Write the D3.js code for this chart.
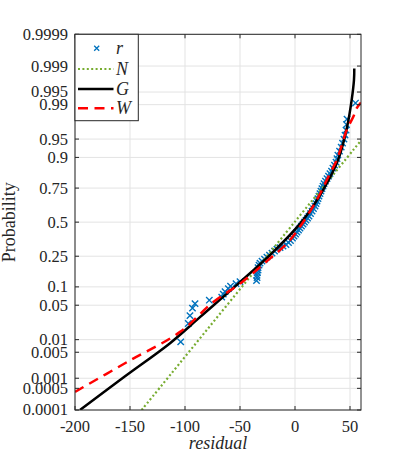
<!DOCTYPE html>
<html>
<head>
<meta charset="utf-8">
<script src="https://cdn.jsdelivr.net/npm/d3@7"></script>
<style>
  body { margin: 0; background: #fff; }
  svg { display: block; }
</style>
</head>
<body>
<svg width="399" height="459"></svg>
<script>
// ---- data ----
const xTicks = [-200, -150, -100, -50, 0, 50];
const probTicks = [0.0001, 0.0005, 0.001, 0.005, 0.01, 0.05, 0.1, 0.25, 0.5, 0.75, 0.9, 0.95, 0.99, 0.995, 0.999, 0.9999];

// residual sample r
const rResidual = [-103.9, -97.0, -95.5, -93.2, -90.9, -77.9, -66.6, -65.2, -63.6, -60.6, -58.6, -53.6, -50.0,
    -35.0, -34.5, -34.5, -34.1, -33.6, -33.6, -32.7, -31.8,
    -30.0, -27.7, -25.5, -23.2, -20.9, -18.6, -16.4, -13.6, -10.9, -8.2, -5.9, -4.1, -2.3, -0.9, 0.5, 1.8, 3.2,
    4.5, 5.9, 7.3, 8.6, 10.0, 11.4, 12.7, 14.1, 15.5, 16.8, 18.2, 19.1, 20.0, 20.9, 21.8, 22.7, 23.6, 24.5,
    25.5, 26.4, 27.7, 29.1, 30.5, 31.8, 33.2, 34.5, 35.9, 37.3, 38.2, 39.0, 40.5, 42.0, 43.2, 44.5, 45.5,
    46.4, 46.8, 47.3, 55.0];
const rProb = [0.00889, 0.0224, 0.0321, 0.0443, 0.0533, 0.0612, 0.0688, 0.0770, 0.0844, 0.0939, 0.1026, 0.1116, 0.1194,
    0.1234, 0.1359, 0.1469, 0.1587, 0.1710, 0.1838, 0.1973, 0.2085,
    0.2200, 0.2318, 0.2442, 0.2568, 0.2697, 0.2829, 0.2965, 0.3068, 0.3174, 0.3279, 0.3424, 0.3572, 0.3756, 0.3909, 0.4061, 0.4215, 0.4372,
    0.4526, 0.4685, 0.4842, 0.5000, 0.5158, 0.5315, 0.5474, 0.5668, 0.5862, 0.6054, 0.6244, 0.6429, 0.6612, 0.6791, 0.6967, 0.7137, 0.7303, 0.7464,
    0.7621, 0.7771, 0.7916, 0.8054, 0.8188, 0.8315, 0.8437, 0.8576, 0.8705, 0.8826, 0.8956, 0.9077, 0.9201, 0.9312, 0.9411, 0.9499, 0.9575,
    0.9658, 0.9733, 0.9793, 0.9908];

// fitted curves: [residual, probability]
const fitN = [[-139.4, 0.0001], [-0.4, 0.5], [60, 0.947]];
const fitG = [[-195.5, 0.0001], [-154.5, 0.00114], [-113.6, 0.00829], [-86.4, 0.0300], [-50, 0.1174], [-20, 0.2762],
    [7.3, 0.516], [25.5, 0.7369], [39.1, 0.8903], [47.3, 0.9700], [51.5, 0.99216], [53.6, 0.99754], [53.9, 0.99883]];
const fitW = [[-200, 0.00039], [-152.3, 0.00284], [-104.5, 0.01492], [-74.5, 0.0566], [-48.2, 0.1174], [-24.5, 0.2260],
    [-7.3, 0.3365], [4.5, 0.4630], [19.7, 0.6686], [31.8, 0.8325], [37.9, 0.8903], [47, 0.9658], [53, 0.9815],
    [56, 0.9878], [60, 0.9910]];

const legendItems = [
    { key: 'r', label: 'r' },
    { key: 'N', label: 'N' },
    { key: 'G', label: 'G' },
    { key: 'W', label: 'W' }
];

// inverse normal CDF (probability paper scale)
function norminv(p) {
    const a = [-3.969683028665376e+01, 2.209460984245205e+02, -2.759285104469687e+02, 1.383577518672690e+02, -3.066479806614716e+01, 2.506628277459239e+00];
    const b = [-5.447609879822406e+01, 1.615858368580409e+02, -1.556989798598866e+02, 6.680131188771972e+01, -1.328068155288572e+01];
    const c = [-7.784894002430293e-03, -3.223964580411365e-01, -2.400758277161838e+00, -2.549732539343734e+00, 4.374664141464968e+00, 2.938163982698783e+00];
    const dd = [7.784695709041462e-03, 3.224671290700398e-01, 2.445134137142996e+00, 3.754408661907416e+00];
    const pl = 0.02425;
    let q, r;
    if (p < pl) {
        q = Math.sqrt(-2 * Math.log(p));
        return (((((c[0] * q + c[1]) * q + c[2]) * q + c[3]) * q + c[4]) * q + c[5]) / ((((dd[0] * q + dd[1]) * q + dd[2]) * q + dd[3]) * q + 1);
    } else if (p <= 1 - pl) {
        q = p - 0.5; r = q * q;
        return (((((a[0] * r + a[1]) * r + a[2]) * r + a[3]) * r + a[4]) * r + a[5]) * q / (((((b[0] * r + b[1]) * r + b[2]) * r + b[3]) * r + b[4]) * r + 1);
    }
    q = Math.sqrt(-2 * Math.log(1 - p));
    return -(((((c[0] * q + c[1]) * q + c[2]) * q + c[3]) * q + c[4]) * q + c[5]) / ((((dd[0] * q + dd[1]) * q + dd[2]) * q + dd[3]) * q + 1);
}

const serif = 'Liberation Serif';
const svg = d3.select('svg');
const pL = 75, pR = 361, pT = 34.3, pB = 410;

const x = d3.scaleLinear().domain([-200, 60]).range([pL, pR]);
const zScale = d3.scaleLinear().domain([norminv(0.0001), norminv(0.9999)]).range([pB, pT]);
const y = p => zScale(norminv(p));

const axisColor = '#262626';
const gridColor = '#e3e3e3';

// grid
const grid = svg.append('g');
grid.selectAll('.gx').data(xTicks).enter().append('line')
    .attr('x1', d => x(d)).attr('x2', d => x(d))
    .attr('y1', pT).attr('y2', pB)
    .attr('stroke', gridColor).attr('stroke-width', 1);
grid.selectAll('.gy').data(probTicks).enter().append('line')
    .attr('x1', pL).attr('x2', pR)
    .attr('y1', d => y(d)).attr('y2', d => y(d))
    .attr('stroke', gridColor).attr('stroke-width', 1);

// clip for the data
svg.append('clipPath').attr('id', 'plotclip')
    .append('rect').attr('x', pL).attr('y', pT).attr('width', pR - pL).attr('height', pB - pT);
const plot = svg.append('g').attr('clip-path', 'url(#plotclip)');

const line = d3.line()
    .x(d => x(d[0]))
    .y(d => y(d[1]))
    .curve(d3.curveCatmullRom.alpha(0.5));

// scatter markers
const mk = 3.2;
const pts = rResidual.map((r, i) => [r, rProb[i]]);
plot.append('g').selectAll('path').data(pts).enter().append('path')
    .attr('d', d => {
        const cx = x(d[0]), cy = y(d[1]);
        return `M${cx - mk},${cy - mk}L${cx + mk},${cy + mk}M${cx - mk},${cy + mk}L${cx + mk},${cy - mk}`;
    })
    .attr('stroke', '#0072BD').attr('stroke-width', 1.4).attr('fill', 'none');

plot.append('path').datum(fitN).attr('d', line)
    .attr('fill', 'none').attr('stroke', '#77AC30').attr('stroke-width', 2.2)
    .attr('stroke-dasharray', '2,2.4');
plot.append('path').datum(fitG).attr('d', line)
    .attr('fill', 'none').attr('stroke', '#000').attr('stroke-width', 2.5);
plot.append('path').datum(fitW).attr('d', line)
    .attr('fill', 'none').attr('stroke', '#ff0000').attr('stroke-width', 2.5)
    .attr('stroke-dasharray', '10,6.5');

// box and ticks
const tl = 4;
const box = svg.append('g').attr('stroke', axisColor).attr('stroke-width', 1).attr('fill', 'none');
box.append('rect').attr('x', pL).attr('y', pT).attr('width', pR - pL).attr('height', pB - pT);
xTicks.forEach(t => {
    box.append('line').attr('x1', x(t)).attr('x2', x(t)).attr('y1', pB).attr('y2', pB - tl);
    box.append('line').attr('x1', x(t)).attr('x2', x(t)).attr('y1', pT).attr('y2', pT + tl);
});
probTicks.forEach(t => {
    box.append('line').attr('x1', pL).attr('x2', pL + tl).attr('y1', y(t)).attr('y2', y(t));
    box.append('line').attr('x1', pR).attr('x2', pR - tl).attr('y1', y(t)).attr('y2', y(t));
});

// tick labels
svg.append('g').selectAll('text').data(xTicks).enter().append('text')
    .attr('font-family', serif).attr('font-size', 16.5).attr('fill', axisColor)
    .attr('x', d => x(d)).attr('y', pB + 22)
    .attr('text-anchor', 'middle')
    .text(d => d);
svg.append('g').selectAll('text').data(probTicks).enter().append('text')
    .attr('font-family', serif).attr('font-size', 16.5).attr('fill', axisColor)
    .attr('x', pL - 7).attr('y', d => y(d)).attr('dy', '0.33em')
    .attr('text-anchor', 'end')
    .text(d => d);

// axis labels
svg.append('text')
    .attr('font-family', serif).attr('font-size', 18).attr('font-style', 'italic').attr('fill', axisColor)
    .attr('x', (pL + pR) / 2).attr('y', 449)
    .attr('text-anchor', 'middle')
    .text('residual');
svg.append('text')
    .attr('font-family', serif).attr('font-size', 18).attr('fill', axisColor)
    .attr('transform', `translate(15,${(pT + pB) / 2}) rotate(-90)`)
    .attr('text-anchor', 'middle')
    .text('Probability');

// legend
const lg = svg.append('g');
lg.append('rect').attr('x', pL).attr('y', pT).attr('width', 63.3).attr('height', 86.4)
    .attr('fill', '#fff').attr('stroke', axisColor).attr('stroke-width', 1);
const rowY = [48.3, 69, 89, 108.3];
legendItems.forEach((it, i) => {
    const yy = rowY[i];
    if (it.key === 'r') {
        const cx = 96.7;
        lg.append('path')
            .attr('d', `M${cx - 2.5},${yy - 2.5}L${cx + 2.5},${yy + 2.5}M${cx - 2.5},${yy + 2.5}L${cx + 2.5},${yy - 2.5}`)
            .attr('stroke', '#0072BD').attr('stroke-width', 1.3);
    } else {
        const l = lg.append('line').attr('x1', 78).attr('x2', 113.5).attr('y1', yy).attr('y2', yy);
        if (it.key === 'N') l.attr('stroke', '#77AC30').attr('stroke-width', 2.2).attr('stroke-dasharray', '2,2.4');
        if (it.key === 'G') l.attr('stroke', '#000').attr('stroke-width', 2.5);
        if (it.key === 'W') l.attr('stroke', '#ff0000').attr('stroke-width', 2.5).attr('stroke-dasharray', '10,6.5');
    }
    lg.append('text')
        .attr('font-family', serif).attr('font-size', 18).attr('font-style', 'italic').attr('fill', axisColor)
        .attr('x', 116).attr('y', yy).attr('dy', '0.33em')
        .text(it.label);
});
</script>
</body>
</html>
